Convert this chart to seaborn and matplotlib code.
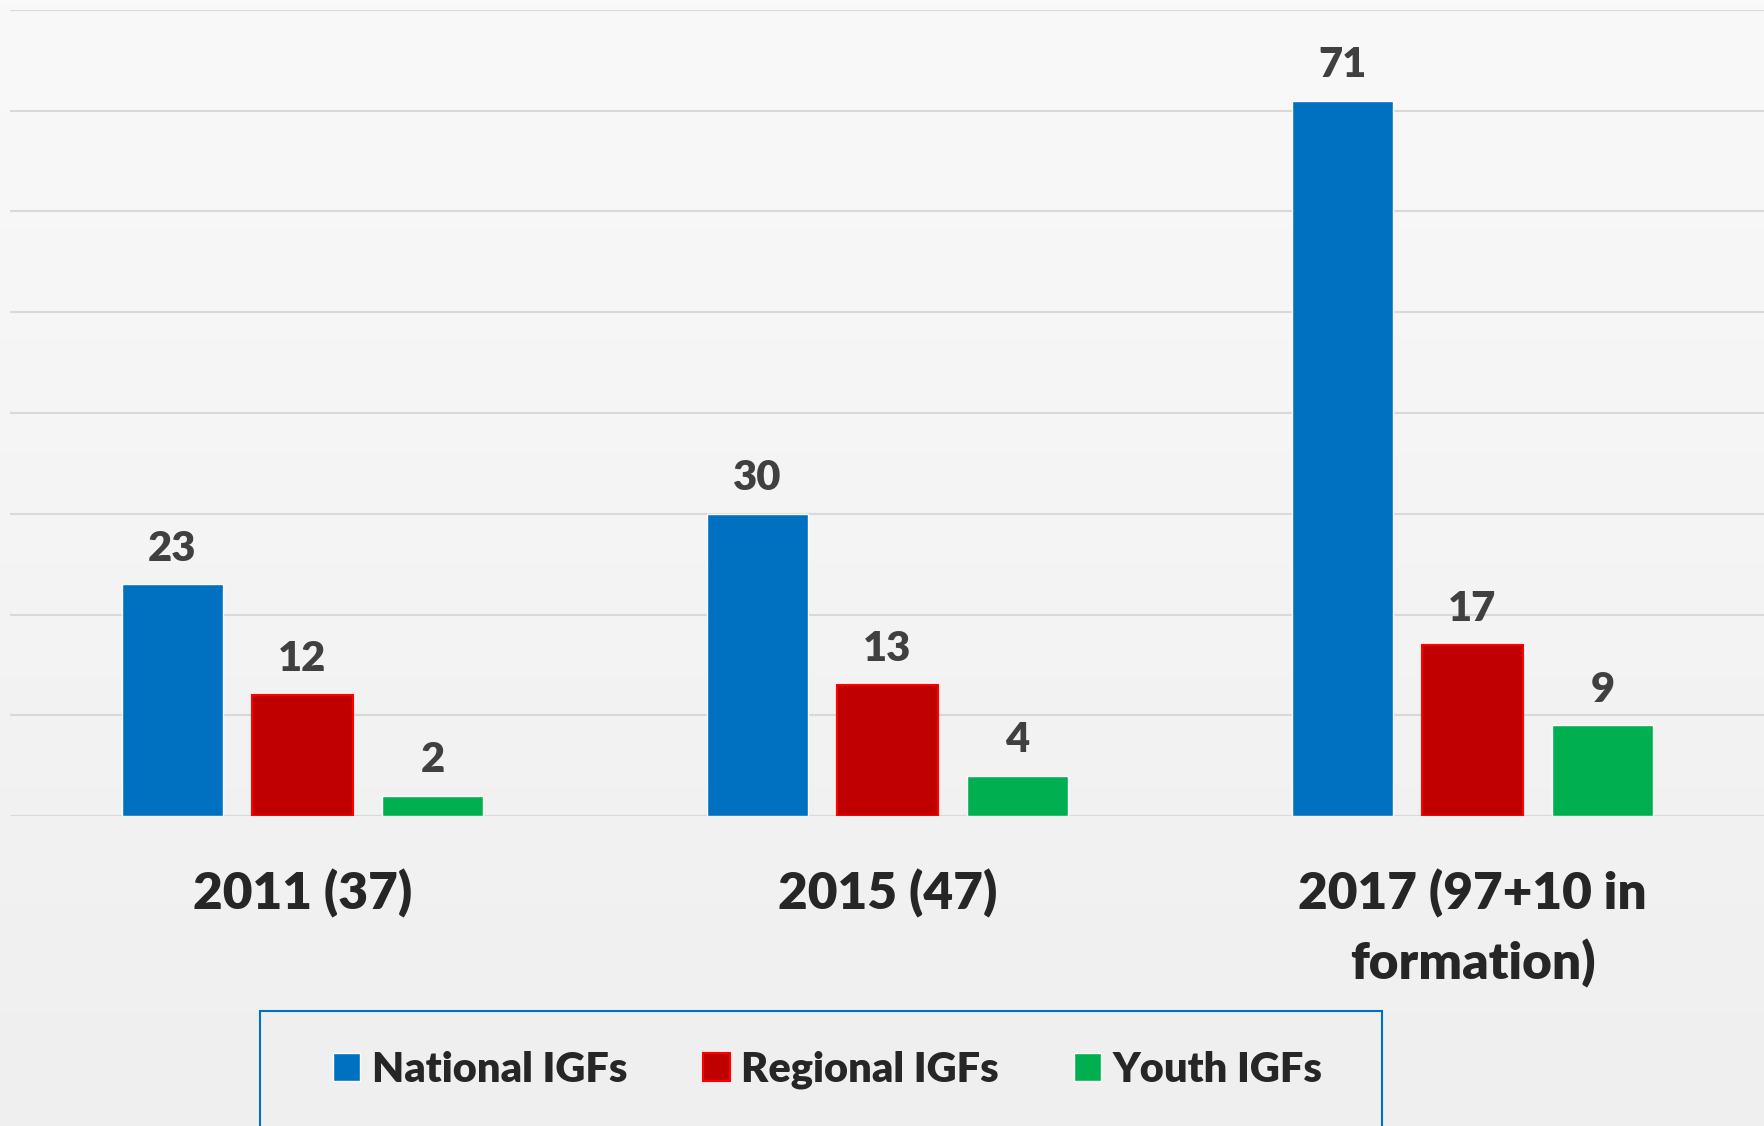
import pandas as pd
import numpy as np
import matplotlib.pyplot as plt
from matplotlib.colors import LinearSegmentedColormap
from matplotlib.patches import Rectangle
import seaborn as sns

# ----------------------------
# Data
# ----------------------------
years = ["2011 (37)", "2015 (47)", "2017 (97+10 in\nformation)"]
series = ["National IGFs", "Regional IGFs", "Youth IGFs"]
national = [23, 30, 71]
regional = [12, 13, 17]
youth = [2, 4, 9]

df = pd.DataFrame({
    "year": years * 3,
    "type": [series[0]] * 3 + [series[1]] * 3 + [series[2]] * 3,
    "count": national + regional + youth,
})

colors = ["#0070C0", "#C00000", "#00B050"]

# ----------------------------
# Settings
# ----------------------------
sns.set_style("white")
plt.rcParams["font.family"] = ["Lato", "DejaVu Sans"]
WEIGHT = "heavy"

W, H = 1765, 1126
fig = plt.figure(figsize=(W / 100, H / 100), dpi=100)

# soft grey gradient background
bg = fig.add_axes([0, 0, 1, 1], zorder=-10)
grad = np.linspace(0, 1, 256).reshape(-1, 1)
bg.imshow(grad, aspect="auto", cmap=LinearSegmentedColormap.from_list("bg", ["#f9f9f9", "#efefef"]))
bg.axis("off")

ax = fig.add_axes([10 / W, 1 - 816 / H, 1 - 10 / W, (816 - 10) / H])
ax.patch.set_alpha(0)

sns.barplot(data=df, x="year", y="count", hue="type", palette=colors, saturation=1,
            width=0.667, gap=0.22, errorbar=None, ax=ax, legend=False)

# red bars have a bright red outline
for bar in ax.containers[1]:
    bar.set_edgecolor("#ff0000")
    bar.set_linewidth(1.5)

for cont in ax.containers:
    ax.bar_label(cont, padding=12, fontsize=30, fontweight=WEIGHT, color="#404040")

ax.set_ylim(0, 80)
ax.set_xlim(-0.5, 2.5)
ax.set_yticks(range(0, 81, 10))
ax.set_yticklabels([])
ax.grid(axis="y", color="#d9d9d9", linewidth=1.5)
ax.set_axisbelow(True)
for s in ax.spines.values():
    s.set_visible(False)
ax.tick_params(axis="both", length=0)
ax.tick_params(axis="x", pad=38, labelsize=37)
for lab in ax.get_xticklabels():
    lab.set_fontweight(WEIGHT)
    lab.set_linespacing(1.5)
ax.set_xlabel("")
ax.set_ylabel("")

# legend
ax.legend(ax.containers, series, loc="center",
          bbox_to_anchor=(828 / W, 1 - 1070 / H), bbox_transform=fig.transFigure,
          ncol=3, frameon=False, prop={"size": 30, "weight": WEIGHT},
          handlelength=0.65, handleheight=0.65, handletextpad=0.28, columnspacing=1.8)

fig.add_artist(Rectangle((260 / W, -0.02), 1122 / W, (H - 1011) / H + 0.02,
                         transform=fig.transFigure, fill=False,
                         edgecolor="#0070C0", linewidth=1.5))

plt.savefig("out.png", dpi=100)
